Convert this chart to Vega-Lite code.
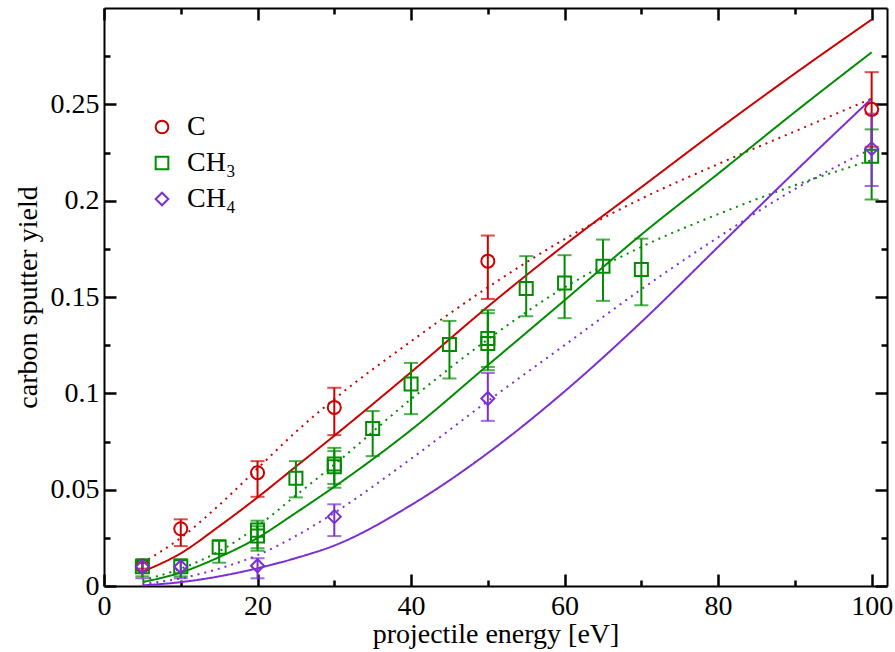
{
  "$schema": "https://vega.github.io/schema/vega-lite/v6.json",
  "width": 783,
  "height": 578,
  "autosize": {"type": "none"},
  "padding": {"left": 104, "top": 8, "right": 8, "bottom": 66},
  "background": "white",
  "config": {
    "view": {"stroke": null},
    "font": "Liberation Serif",
    "axis": {"grid": false, "labelOverlap": false, "labelFlush": false, "domainColor": "black", "domainWidth": 2, "labelColor": "black", "titleColor": "black", "labelFont": "Liberation Serif", "titleFont": "Liberation Serif", "labelFontSize": 28, "titleFontSize": 28, "titleFontWeight": "normal"}
  },
  "datasets": {
    "pts": [
      {"series": "C", "E": 5, "y": 0.0104, "lo": 0.009, "hi": 0.012},
      {"series": "C", "E": 10, "y": 0.0297, "lo": 0.0207, "hi": 0.0346},
      {"series": "C", "E": 20, "y": 0.0588, "lo": 0.0463, "hi": 0.0648},
      {"series": "C", "E": 30, "y": 0.0927, "lo": 0.0783, "hi": 0.1029},
      {"series": "C", "E": 50, "y": 0.1686, "lo": 0.149, "hi": 0.1819},
      {"series": "C", "E": 100, "y": 0.2474, "lo": 0.228, "hi": 0.2667},
      {"series": "CH₃", "E": 5, "y": 0.0100, "lo": 0.005, "hi": 0.014},
      {"series": "CH₃", "E": 10, "y": 0.0100, "lo": 0.005, "hi": 0.014},
      {"series": "CH₃", "E": 15, "y": 0.0201, "lo": 0.0121, "hi": 0.0239},
      {"series": "CH₃", "E": 20, "y": 0.0290, "lo": 0.0196, "hi": 0.0339},
      {"series": "CH₃", "E": 20, "y": 0.0259, "lo": 0.0183, "hi": 0.0310},
      {"series": "CH₃", "E": 25, "y": 0.0559, "lo": 0.0460, "hi": 0.0648},
      {"series": "CH₃", "E": 30, "y": 0.0633, "lo": 0.0530, "hi": 0.0717},
      {"series": "CH₃", "E": 30, "y": 0.0619, "lo": 0.0510, "hi": 0.0700},
      {"series": "CH₃", "E": 35, "y": 0.0818, "lo": 0.0674, "hi": 0.0908},
      {"series": "CH₃", "E": 40, "y": 0.1048, "lo": 0.0892, "hi": 0.1158},
      {"series": "CH₃", "E": 45, "y": 0.1254, "lo": 0.1077, "hi": 0.1376},
      {"series": "CH₃", "E": 50, "y": 0.1285, "lo": 0.1137, "hi": 0.1432},
      {"series": "CH₃", "E": 50, "y": 0.1259, "lo": 0.1120, "hi": 0.1416},
      {"series": "CH₃", "E": 55, "y": 0.1544, "lo": 0.1400, "hi": 0.1712},
      {"series": "CH₃", "E": 60, "y": 0.1573, "lo": 0.1390, "hi": 0.1717},
      {"series": "CH₃", "E": 65, "y": 0.1660, "lo": 0.1480, "hi": 0.1798},
      {"series": "CH₃", "E": 70, "y": 0.1643, "lo": 0.1457, "hi": 0.1803},
      {"series": "CH₃", "E": 100, "y": 0.2230, "lo": 0.2006, "hi": 0.2370},
      {"series": "CH₄", "E": 5, "y": 0.0100, "lo": 0.004, "hi": 0.0135},
      {"series": "CH₄", "E": 10, "y": 0.0100, "lo": 0.004, "hi": 0.0135},
      {"series": "CH₄", "E": 20, "y": 0.0105, "lo": 0.004, "hi": 0.0144},
      {"series": "CH₄", "E": 30, "y": 0.0360, "lo": 0.0259, "hi": 0.0424},
      {"series": "CH₄", "E": 50, "y": 0.0973, "lo": 0.0857, "hi": 0.1106},
      {"series": "CH₄", "E": 100, "y": 0.2270, "lo": 0.2076, "hi": 0.2452}
    ],
    "curves": [
      {"series": "C", "kind": "solid", "E": 5, "y": 0.0074},
      {"series": "C", "kind": "solid", "E": 10, "y": 0.017},
      {"series": "C", "kind": "solid", "E": 15, "y": 0.031},
      {"series": "C", "kind": "solid", "E": 20, "y": 0.046},
      {"series": "C", "kind": "solid", "E": 25, "y": 0.062},
      {"series": "C", "kind": "solid", "E": 30, "y": 0.078},
      {"series": "C", "kind": "solid", "E": 40, "y": 0.111},
      {"series": "C", "kind": "solid", "E": 50, "y": 0.145},
      {"series": "C", "kind": "solid", "E": 60, "y": 0.177},
      {"series": "C", "kind": "solid", "E": 70, "y": 0.207},
      {"series": "C", "kind": "solid", "E": 80, "y": 0.237},
      {"series": "C", "kind": "solid", "E": 90, "y": 0.266},
      {"series": "C", "kind": "solid", "E": 100, "y": 0.294},
      {"series": "C", "kind": "dotted", "E": 5, "y": 0.012},
      {"series": "C", "kind": "dotted", "E": 10, "y": 0.025},
      {"series": "C", "kind": "dotted", "E": 15, "y": 0.042},
      {"series": "C", "kind": "dotted", "E": 20, "y": 0.061},
      {"series": "C", "kind": "dotted", "E": 25, "y": 0.080},
      {"series": "C", "kind": "dotted", "E": 30, "y": 0.097},
      {"series": "C", "kind": "dotted", "E": 40, "y": 0.127},
      {"series": "C", "kind": "dotted", "E": 50, "y": 0.155},
      {"series": "C", "kind": "dotted", "E": 60, "y": 0.180},
      {"series": "C", "kind": "dotted", "E": 70, "y": 0.201},
      {"series": "C", "kind": "dotted", "E": 80, "y": 0.219},
      {"series": "C", "kind": "dotted", "E": 90, "y": 0.236},
      {"series": "C", "kind": "dotted", "E": 100, "y": 0.253},
      {"series": "CH₃", "kind": "solid", "E": 5, "y": 0.002},
      {"series": "CH₃", "kind": "solid", "E": 10, "y": 0.007},
      {"series": "CH₃", "kind": "solid", "E": 15, "y": 0.015},
      {"series": "CH₃", "kind": "solid", "E": 20, "y": 0.025},
      {"series": "CH₃", "kind": "solid", "E": 25, "y": 0.038},
      {"series": "CH₃", "kind": "solid", "E": 30, "y": 0.0515},
      {"series": "CH₃", "kind": "solid", "E": 40, "y": 0.081},
      {"series": "CH₃", "kind": "solid", "E": 50, "y": 0.1146},
      {"series": "CH₃", "kind": "solid", "E": 60, "y": 0.1483},
      {"series": "CH₃", "kind": "solid", "E": 70, "y": 0.1824},
      {"series": "CH₃", "kind": "solid", "E": 80, "y": 0.214},
      {"series": "CH₃", "kind": "solid", "E": 90, "y": 0.246},
      {"series": "CH₃", "kind": "solid", "E": 100, "y": 0.277},
      {"series": "CH₃", "kind": "dotted", "E": 5, "y": 0.003},
      {"series": "CH₃", "kind": "dotted", "E": 10, "y": 0.009},
      {"series": "CH₃", "kind": "dotted", "E": 15, "y": 0.018},
      {"series": "CH₃", "kind": "dotted", "E": 20, "y": 0.031},
      {"series": "CH₃", "kind": "dotted", "E": 25, "y": 0.047},
      {"series": "CH₃", "kind": "dotted", "E": 30, "y": 0.063},
      {"series": "CH₃", "kind": "dotted", "E": 40, "y": 0.097},
      {"series": "CH₃", "kind": "dotted", "E": 50, "y": 0.128},
      {"series": "CH₃", "kind": "dotted", "E": 60, "y": 0.155},
      {"series": "CH₃", "kind": "dotted", "E": 70, "y": 0.176},
      {"series": "CH₃", "kind": "dotted", "E": 80, "y": 0.193},
      {"series": "CH₃", "kind": "dotted", "E": 90, "y": 0.208},
      {"series": "CH₃", "kind": "dotted", "E": 100, "y": 0.221},
      {"series": "CH₄", "kind": "solid", "E": 5, "y": 0.0003},
      {"series": "CH₄", "kind": "solid", "E": 10, "y": 0.002},
      {"series": "CH₄", "kind": "solid", "E": 15, "y": 0.005},
      {"series": "CH₄", "kind": "solid", "E": 20, "y": 0.0092},
      {"series": "CH₄", "kind": "solid", "E": 25, "y": 0.0145},
      {"series": "CH₄", "kind": "solid", "E": 30, "y": 0.021},
      {"series": "CH₄", "kind": "solid", "E": 40, "y": 0.042},
      {"series": "CH₄", "kind": "solid", "E": 50, "y": 0.069},
      {"series": "CH₄", "kind": "solid", "E": 60, "y": 0.101},
      {"series": "CH₄", "kind": "solid", "E": 70, "y": 0.137},
      {"series": "CH₄", "kind": "solid", "E": 80, "y": 0.176},
      {"series": "CH₄", "kind": "solid", "E": 90, "y": 0.215},
      {"series": "CH₄", "kind": "solid", "E": 100, "y": 0.253},
      {"series": "CH₄", "kind": "dotted", "E": 5, "y": 0.001},
      {"series": "CH₄", "kind": "dotted", "E": 10, "y": 0.004},
      {"series": "CH₄", "kind": "dotted", "E": 15, "y": 0.009},
      {"series": "CH₄", "kind": "dotted", "E": 20, "y": 0.016},
      {"series": "CH₄", "kind": "dotted", "E": 25, "y": 0.026},
      {"series": "CH₄", "kind": "dotted", "E": 30, "y": 0.038},
      {"series": "CH₄", "kind": "dotted", "E": 40, "y": 0.066},
      {"series": "CH₄", "kind": "dotted", "E": 50, "y": 0.096},
      {"series": "CH₄", "kind": "dotted", "E": 60, "y": 0.125},
      {"series": "CH₄", "kind": "dotted", "E": 70, "y": 0.154},
      {"series": "CH₄", "kind": "dotted", "E": 80, "y": 0.181},
      {"series": "CH₄", "kind": "dotted", "E": 90, "y": 0.206},
      {"series": "CH₄", "kind": "dotted", "E": 100, "y": 0.227}
    ]
  },
  "resolve": {"axis": {"x": "independent", "y": "independent"}, "legend": {"color": "independent", "shape": "independent", "strokeDash": "independent"}},
  "layer": [
    {
      "data": {"name": "curves"},
      "mark": {"type": "line", "strokeWidth": 2, "interpolate": "monotone"},
      "encoding": {
        "x": {"field": "E", "type": "quantitative", "scale": {"domain": [0, 102], "nice": false, "zero": false},
          "axis": {"orient": "bottom", "values": [0, 20, 40, 60, 80, 100], "tickSize": -12, "tickColor": "black", "tickWidth": 2.5,
            "labelPadding": 18, "title": "projectile energy [eV]", "titlePadding": 0}},
        "y": {"field": "y", "type": "quantitative", "scale": {"domain": [0, 0.3], "nice": false},
          "axis": {"orient": "left", "values": [0, 0.05, 0.1, 0.15, 0.2, 0.25], "format": "~g", "tickSize": -12, "tickColor": "black", "tickWidth": 2.5,
            "labelPadding": 17, "title": "carbon sputter yield", "titlePadding": 8}},
        "color": {"field": "series", "type": "nominal", "scale": {"domain": ["C", "CH₃", "CH₄"], "range": ["#cc0000", "#008c00", "#7b2fd3"]}, "legend": null},
        "strokeDash": {"field": "kind", "type": "nominal", "scale": {"domain": ["solid", "dotted"], "range": [[1, 0], [2, 5]]}, "legend": null},
        "detail": {"field": "kind"}
      }
    },
    {
      "data": {"name": "pts"},
      "mark": {"type": "rule", "strokeWidth": 2},
      "encoding": {
        "x": {"field": "E", "type": "quantitative",
          "axis": {"orient": "bottom", "values": [10, 30, 50, 70, 90], "tickSize": -6, "tickColor": "black", "tickWidth": 2.5, "labels": false, "domain": false, "title": null}},
        "y": {"field": "lo", "type": "quantitative",
          "axis": {"orient": "left", "values": [0.025, 0.075, 0.125, 0.175, 0.225, 0.275], "tickSize": -6, "tickColor": "black", "tickWidth": 2.5, "labels": false, "domain": false, "title": null}},
        "y2": {"field": "hi"},
        "color": {"field": "series", "type": "nominal", "legend": null}
      }
    },
    {
      "data": {"name": "pts"},
      "mark": {"type": "tick", "orient": "horizontal", "size": 14, "thickness": 2},
      "encoding": {
        "x": {"field": "E", "type": "quantitative",
          "axis": {"orient": "top", "values": [0, 20, 40, 60, 80, 100], "tickSize": -12, "tickColor": "black", "tickWidth": 2.5, "labels": false, "title": null}},
        "y": {"field": "lo", "type": "quantitative",
          "axis": {"orient": "right", "values": [0, 0.05, 0.1, 0.15, 0.2, 0.25], "tickSize": -12, "tickColor": "black", "tickWidth": 2.5, "labels": false, "title": null}},
        "color": {"field": "series", "type": "nominal", "legend": null}
      }
    },
    {
      "data": {"name": "pts"},
      "mark": {"type": "tick", "orient": "horizontal", "size": 14, "thickness": 2},
      "encoding": {
        "x": {"field": "E", "type": "quantitative",
          "axis": {"orient": "top", "values": [10, 30, 50, 70, 90], "tickSize": -6, "tickColor": "black", "tickWidth": 2.5, "labels": false, "domain": false, "title": null}},
        "y": {"field": "hi", "type": "quantitative",
          "axis": {"orient": "right", "values": [0.025, 0.075, 0.125, 0.175, 0.225, 0.275], "tickSize": -6, "tickColor": "black", "tickWidth": 2.5, "labels": false, "domain": false, "title": null}},
        "color": {"field": "series", "type": "nominal", "legend": null}
      }
    },
    {
      "data": {"name": "pts"},
      "mark": {"type": "point", "filled": false, "strokeWidth": 2, "opacity": 1, "size": 170},
      "encoding": {
        "x": {"field": "E", "type": "quantitative", "axis": null},
        "y": {"field": "y", "type": "quantitative", "axis": null},
        "color": {"field": "series", "type": "nominal",
          "legend": {"orient": "none", "legendX": 44, "legendY": 105, "title": null, "labelFont": "Liberation Serif", "labelFontSize": 28, "labelColor": "black", "symbolStrokeWidth": 2, "symbolSize": 160, "labelOffset": 11, "rowPadding": 8, "padding": 0}},
        "shape": {"field": "series", "type": "nominal", "scale": {"domain": ["C", "CH₃", "CH₄"], "range": ["circle", "square", "diamond"]},
          "legend": {"orient": "none", "legendX": 44, "legendY": 105, "title": null, "labelFont": "Liberation Serif", "labelFontSize": 28, "labelColor": "black", "symbolStrokeWidth": 2, "symbolSize": 160, "labelOffset": 11, "rowPadding": 8, "padding": 0}}
      }
    }
  ]
}
